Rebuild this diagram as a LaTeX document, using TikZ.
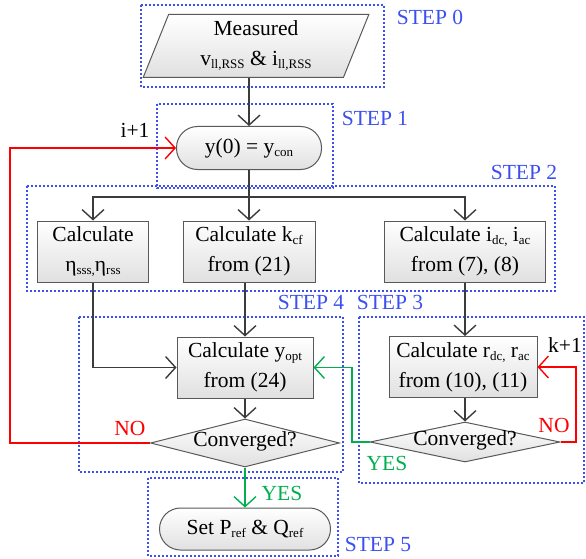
\documentclass[tikz,border=0pt]{standalone}
\usepackage{fontspec}
\setmainfont{Liberation Serif}
\usetikzlibrary{arrows.meta,shapes.geometric,positioning}
\definecolor{stepblue}{RGB}{60,80,240}
\definecolor{yesgreen}{RGB}{0,176,80}
\definecolor{edgegray}{RGB}{60,60,60}
\newcommand{\subt}[1]{\raisebox{-0.3ex}{\fontsize{13}{13}\selectfont #1}}

\begin{document}
\begin{tikzpicture}[x=1pt, y=-1pt, >={Straight Barb[length=10pt,width=22pt,line width=1.4pt]},
  font=\fontsize{21.5}{30}\selectfont,
  box/.style={draw=black!65, line width=1pt, top color=white, bottom color=black!12, align=center, inner sep=0pt},
  proc/.style={box, rectangle, minimum height=61pt},
  term/.style={box, rectangle, rounded corners=21pt, minimum height=43pt},
  decide/.style={box, diamond, text height=9pt, text depth=2pt, aspect=4},
  flow/.style={->, draw=edgegray, line width=1.5pt},
  stepzone/.style={draw=stepblue, line width=1.3pt, dash pattern=on 2pt off 2pt},
  steptag/.style={text=stepblue}]
\path[use as bounding box] (0,0) rectangle (586,559);
% step regions
\draw[stepzone] (141,5) rectangle (384,87);
\draw[stepzone] (157,104) rectangle (333,188);
\draw[stepzone] (27,186) rectangle (555,291);
\draw[stepzone] (79,317) rectangle (343,472);
\draw[stepzone] (359,317) rectangle (584,483);
\draw[stepzone] (148,478) rectangle (338,556);
\node[steptag] (s0) at (430,17) {STEP 0};
\node[steptag] (s1) at (375,118) {STEP 1};
\node[steptag] (s2) at (524,172) {STEP 2};
\node[steptag] (s3) at (390,302) {STEP 3};
\node[steptag] (s4) at (311,302) {STEP 4};
\node[steptag] (s5) at (378,544) {STEP 5};
% blocks
\node[box, trapezium, trapezium left angle=72, trapezium right angle=108, trapezium stretches=true,
  minimum width=226pt, minimum height=63pt] (meas) at (256,46) {Measured\\v\subt{ll,RSS} \& i\subt{ll,RSS}};
\node[term, minimum width=145pt] (init) at (249,148) {y(0) = y\subt{con}};
\node[proc, minimum width=111pt] (eta) at (93,251.5) {Calculate\\η\subt{sss,}η\subt{rss}};
\node[proc, minimum width=132pt] (kcf) at (249,251.5) {Calculate k\subt{cf}\\from (21)};
\node[proc, minimum width=161pt] (iac) at (465,251.5) {Calculate i\subt{dc,} i\subt{ac}\\from (7), (8)};
\node[proc, minimum width=136pt] (yopt) at (245,367.5) {Calculate y\subt{opt}\\from (24)};
\node[proc, minimum width=148pt] (rac) at (463,367) {Calculate r\subt{dc,} r\subt{ac}\\from (10), (11)};
\node[decide, minimum width=189pt, minimum height=48pt] (convy) at (245,443) {Converged?};
\node[decide, minimum width=190pt, minimum height=40pt] (convr) at (465,442) {Converged?};
\node[term, minimum width=171pt, minimum height=42pt] (setref) at (245,529) {Set P\subt{ref} \& Q\subt{ref}};
% bends
\coordinate (fork) at (249,197);
\coordinate (iret) at (10,148);
\coordinate (yesbend) at (352,367.5);
\coordinate (kret) at (576,367);
% flow
\draw[flow] (init.north |- meas.south) -- (init);
\draw[flow] (init) -- (kcf);
\draw[flow] (fork) -| (eta);
\draw[flow] (fork) -| (iac);
\draw[flow] (eta) |- (yopt);
\draw[flow] (yopt.north |- kcf.south) -- (yopt);
\draw[flow] (iac) -- (iac.south |- rac.north);
\draw[flow] (yopt) -- (convy);
\draw[flow] (convr.north |- rac.south) -- (convr);
\draw[flow, draw=yesgreen] (convy) -- (setref);
\draw[flow, draw=red] (convy) -| (iret) -- (init);
\draw[flow, draw=yesgreen] (convr) -| (yesbend) -- (yopt);
\draw[flow, draw=red] (convr) -| (kret) -- (rac);
% labels
\node (iplus) at (135,130) {i+1};
\node (kplus) at (565,345) {k+1};
\node[text=red] (no4) at (130,428) {NO};
\node[text=red] (no3) at (554,425) {NO};
\node[text=yesgreen] (yes4) at (282,493) {YES};
\node[text=yesgreen] (yes3) at (387,463) {YES};
\end{tikzpicture}
\end{document}
